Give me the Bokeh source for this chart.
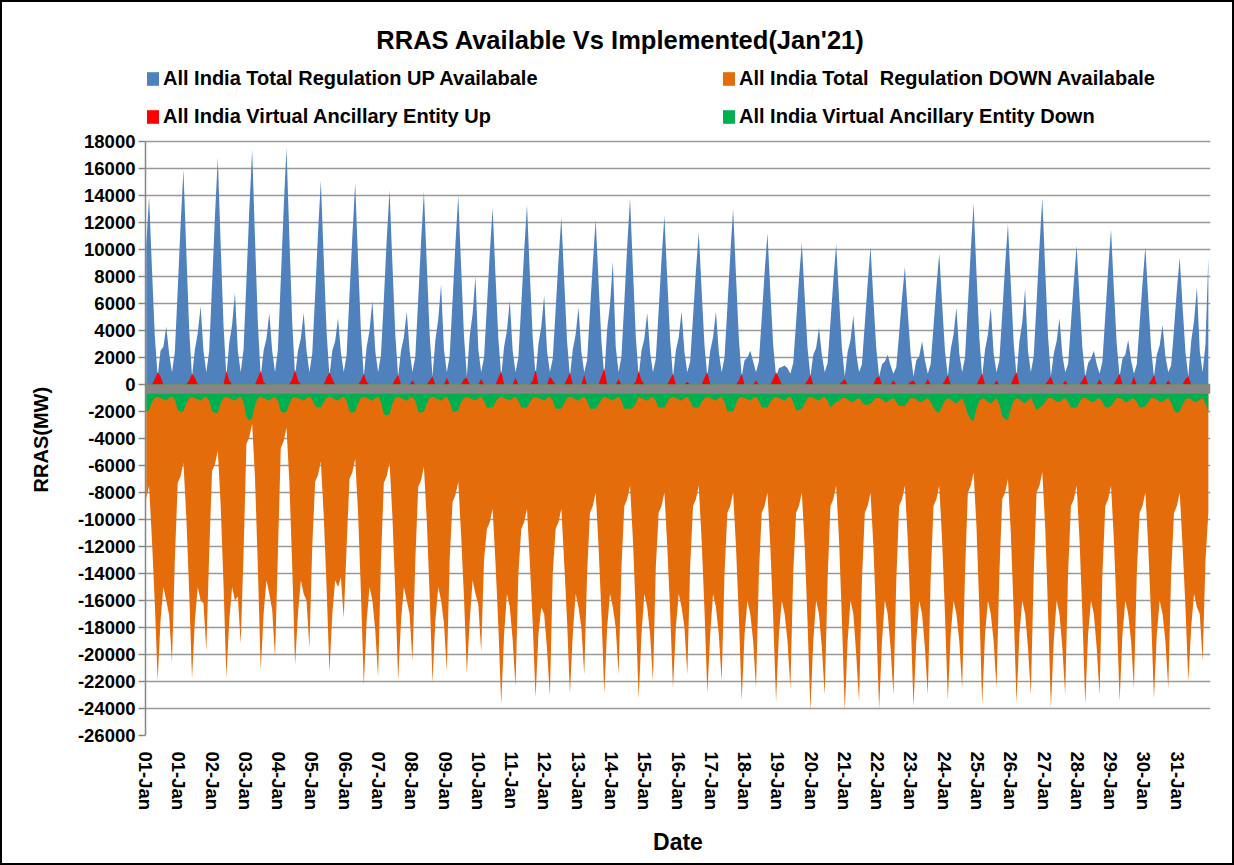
from bokeh.plotting import figure
from bokeh.models import Range1d, FixedTicker, Legend, LegendItem, Label, BoxAnnotation
from bokeh.embed import file_html
from bokeh.resources import INLINE

# ---------------- data (MW), one row per day, samples every 2 h at hh:30 ----------------
sample_hours = [0.5, 2.5, 4.5, 6.5, 8.5, 10.5, 12.5, 14.5, 16.5, 18.5, 20.5, 22.5]

date_labels = ["01-Jan", "01-Jan", "02-Jan", "03-Jan", "04-Jan", "05-Jan", "06-Jan", "07-Jan",
               "08-Jan", "09-Jan", "10-Jan", "11-Jan", "12-Jan", "13-Jan", "14-Jan", "15-Jan",
               "16-Jan", "17-Jan", "18-Jan", "19-Jan", "20-Jan", "21-Jan", "22-Jan", "23-Jan",
               "24-Jan", "25-Jan", "26-Jan", "27-Jan", "28-Jan", "29-Jan", "30-Jan", "31-Jan"]

y_ticks = [18000, 16000, 14000, 12000, 10000, 8000, 6000, 4000, 2000, 0, -2000, -4000, -6000,
           -8000, -10000, -12000, -14000, -16000, -18000, -20000, -22000, -24000, -26000]

series_names = ["All India Total Regulation UP Availabale",
                "All India Total  Regulation DOWN Availabale",
                "All India Virtual Ancillary Entity Up",
                "All India Virtual Ancillary Entity Down"]

up_avail = [
    10300, 13900, 8600, 3600, 600, 2500, 2800, 4300, 2300, 900, 2400, 7000,
    11800, 15900, 9900, 4100, 600, 2600, 3800, 5800, 2500, 900, 2500, 7400,
    12400, 16800, 10400, 4400, 600, 3100, 4400, 6800, 2500, 900, 2600, 7700,
    12900, 17400, 10800, 4500, 600, 2500, 3400, 5300, 2500, 900, 2600, 7700,
    13000, 17500, 10900, 4600, 600, 2500, 3400, 5300, 2500, 900, 2300, 6600,
    11200, 15100, 9400, 3900, 600, 2500, 3200, 4900, 2400, 900, 2200, 6600,
    11000, 14900, 9200, 3900, 600, 2800, 4000, 6200, 2500, 900, 2200, 6300,
    10700, 14400, 8900, 3700, 600, 2500, 3500, 5400, 2500, 900, 2100, 6300,
    10600, 14300, 8900, 3700, 600, 3300, 4800, 7400, 2600, 900, 2100, 6200,
    10400, 14000, 8700, 3600, 600, 3600, 5200, 8000, 2600, 900, 2000, 5800,
    9700, 13100, 8100, 3400, 600, 2800, 4000, 6200, 2500, 900, 2000, 5900,
    9800, 13300, 8200, 3500, 600, 3000, 4300, 6600, 2500, 900, 1900, 5500,
    9200, 12400, 7700, 3200, 600, 2600, 3700, 5700, 2400, 900, 1800, 5400,
    9000, 12200, 7600, 3200, 600, 4100, 5900, 9100, 2800, 900, 2100, 6100,
    10200, 13800, 8600, 3600, 600, 2500, 3400, 5300, 2400, 900, 1900, 5500,
    9300, 12500, 7800, 3300, 600, 2500, 3500, 5400, 2400, 900, 1700, 5000,
    8400, 11300, 7000, 2900, 600, 2500, 3500, 5400, 2400, 900, 2000, 5700,
    9600, 13000, 8100, 3400, 600, 1800, 2000, 2500, 1700, 900, 1700, 4900,
    8300, 11200, 6900, 2900, 600, 1200, 1300, 1400, 1200, 800, 1600, 4600,
    7800, 10500, 6500, 2700, 600, 2200, 2700, 4200, 2200, 900, 1600, 4600,
    7700, 10400, 6400, 2700, 600, 2400, 3300, 5100, 2300, 900, 1500, 4500,
    7500, 10200, 6300, 2700, 600, 1500, 1700, 2200, 1400, 800, 1300, 3800,
    6400, 8700, 5400, 2300, 600, 1800, 2100, 3200, 1800, 800, 1500, 4300,
    7200, 9700, 6000, 2500, 600, 2600, 3700, 5700, 2300, 900, 2000, 5900,
    9900, 13400, 8300, 3500, 600, 2600, 3700, 5700, 2300, 900, 1800, 5200,
    8800, 11900, 7400, 3100, 600, 3200, 4600, 7100, 2500, 900, 2100, 6100,
    10200, 13800, 8600, 3600, 600, 2300, 3200, 4900, 2200, 900, 1500, 4500,
    7600, 10300, 6400, 2700, 600, 1600, 1900, 2500, 1500, 800, 1700, 5100,
    8500, 11500, 7100, 3000, 600, 1900, 2200, 3300, 1800, 800, 1500, 4500,
    7500, 10200, 6300, 2700, 600, 2200, 2900, 4400, 2100, 900, 1400, 4100,
    7000, 9400, 5800, 2400, 600, 3200, 4700, 7200, 2500, 900, 3000, 9400,
]

down_avail = [
    -8500, -7500, -11500, -16200, -21900, -17500, -15000, -16000, -17100, -20600, -13000, -7300,
    -6800, -5800, -9800, -15300, -21800, -17500, -15000, -16000, -16200, -19700, -12500, -6400,
    -5900, -4900, -8900, -14800, -21700, -17500, -15000, -16000, -15700, -19200, -12500, -4400,
    -3900, -2900, -6900, -13600, -21200, -17000, -14500, -15500, -16700, -20200, -12500, -4700,
    -4200, -3200, -7200, -13500, -20800, -17000, -14500, -15500, -16000, -19500, -12000, -7200,
    -6700, -5700, -9700, -15000, -21300, -17000, -14500, -15000, -14300, -17300, -12000, -7000,
    -6500, -5500, -9500, -15400, -22300, -17500, -15000, -16000, -18200, -21700, -13000, -7300,
    -6800, -5800, -9800, -15400, -21900, -17500, -15000, -16000, -17000, -20500, -13000, -7600,
    -7100, -6100, -10100, -15600, -22100, -17500, -15000, -16000, -17700, -21200, -13000, -8700,
    -8200, -7200, -11200, -15800, -21400, -17500, -14500, -15500, -16300, -19800, -13000, -10700,
    -10200, -9200, -13200, -17900, -23700, -18500, -15500, -16500, -18900, -22400, -14000, -10700,
    -10200, -9200, -13200, -17700, -23200, -18500, -16500, -17000, -19600, -23100, -14000, -10700,
    -10200, -9200, -13200, -17500, -22900, -18500, -15500, -16500, -18000, -21500, -14000, -9500,
    -9000, -8000, -12000, -16900, -22900, -18000, -15500, -16500, -18000, -21500, -13500, -9000,
    -8500, -7500, -11500, -16900, -23300, -18500, -15500, -16500, -18500, -22000, -13500, -9500,
    -9000, -8000, -12000, -16800, -22500, -18000, -15500, -16500, -18000, -21500, -13500, -9000,
    -8500, -7500, -11500, -16700, -22900, -18500, -15500, -16500, -18500, -22000, -14000, -9500,
    -9000, -8000, -12000, -17200, -23400, -18500, -16000, -17000, -19000, -22500, -14000, -9500,
    -9000, -8000, -12000, -17300, -23500, -18500, -16000, -17000, -19000, -22500, -14000, -9500,
    -9000, -8000, -12000, -17600, -24200, -19000, -16000, -17000, -19500, -23000, -14500, -9000,
    -8500, -7500, -11500, -17400, -24200, -19000, -16000, -17000, -20000, -23500, -14500, -9500,
    -9000, -8000, -12000, -17600, -24100, -19000, -16000, -17000, -19500, -23000, -14500, -9000,
    -8500, -7500, -11500, -17200, -23900, -19000, -16000, -17000, -19500, -23000, -14500, -9000,
    -8500, -7500, -11500, -17000, -23400, -18500, -16000, -17000, -19000, -22500, -14000, -8000,
    -7500, -6500, -10500, -16600, -23700, -18500, -16000, -17000, -19000, -22500, -14000, -8500,
    -8000, -7000, -11000, -16800, -23600, -18500, -16000, -17000, -19500, -23000, -14000, -8000,
    -7500, -6500, -10500, -16800, -24000, -19000, -16000, -17000, -19500, -23000, -14000, -9000,
    -8500, -7500, -11500, -17100, -23700, -18500, -16000, -17000, -19500, -23000, -14000, -9000,
    -8500, -7500, -11500, -17000, -23500, -18500, -16000, -17000, -19000, -22500, -14000, -9500,
    -9000, -8000, -12000, -17200, -23300, -18500, -16000, -17000, -19000, -22500, -14000, -9500,
    -9000, -8000, -12000, -16500, -22000, -18000, -15500, -16500, -17000, -20500, -13000, -9500,
]

vae_up = [
    0, 0, 0, 400, 900, 600, 0, 0, 0, 0, 0, 0,
    0, 0, 0, 300, 800, 500, 0, 0, 0, 0, 0, 0,
    0, 0, 0, 0, 1000, 300, 0, 0, 0, 0, 0, 0,
    0, 0, 0, 500, 1000, 200, 0, 0, 0, 0, 0, 0,
    0, 0, 0, 400, 1100, 300, 0, 0, 0, 0, 0, 0,
    0, 0, 0, 500, 900, 400, 0, 0, 0, 0, 0, 0,
    0, 0, 0, 300, 800, 200, 0, 0, 0, 0, 0, 0,
    0, 0, 0, 400, 700, 0, 0, 0, 0, 300, 0, 0,
    0, 0, 0, 300, 600, 0, 0, 0, 0, 500, 0, 0,
    0, 0, 0, 400, 500, 0, 0, 0, 0, 400, 0, 0,
    0, 0, 0, 500, 1000, 0, 0, 0, 0, 500, 0, 0,
    0, 0, 0, 300, 1100, 0, 0, 0, 0, 600, 300, 0,
    0, 0, 0, 400, 900, 0, 0, 0, 0, 700, 0, 0,
    0, 0, 0, 600, 1200, 0, 0, 0, 0, 400, 0, 0,
    0, 0, 0, 200, 1000, 300, 0, 0, 0, 0, 0, 0,
    0, 0, 0, 400, 800, 0, 0, 0, 0, 200, 0, 0,
    0, 0, 0, 500, 900, 0, 0, 0, 0, 0, 0, 0,
    0, 0, 0, 300, 800, 0, 0, 0, 0, 300, 0, 0,
    0, 0, 0, 400, 900, 500, 0, 0, 0, 0, 0, 0,
    0, 0, 0, 300, 700, 0, 0, 0, 0, 0, 0, 0,
    0, 0, 0, 200, 400, 0, 0, 0, 0, 0, 0, 0,
    0, 0, 0, 500, 600, 0, 0, 0, 0, 300, 0, 0,
    0, 0, 0, 200, 300, 0, 0, 0, 0, 400, 0, 0,
    0, 0, 0, 300, 700, 0, 0, 0, 0, 0, 0, 0,
    0, 0, 0, 400, 800, 0, 0, 0, 0, 300, 0, 0,
    0, 0, 0, 500, 900, 0, 0, 0, 0, 0, 0, 0,
    0, 0, 0, 300, 600, 0, 0, 0, 0, 300, 0, 0,
    0, 0, 0, 300, 700, 0, 0, 0, 0, 400, 0, 0,
    0, 0, 0, 400, 800, 0, 0, 0, 0, 600, 0, 0,
    0, 0, 0, 300, 700, 0, 0, 0, 0, 300, 0, 0,
    0, 0, 0, 400, 600, 0, 0, 0, 0, 0, 0, 0,
]

vae_down = [
    -2000, -1900, -1300, -1000, -900, -1000, -1100, -1200, -1000, -900, -1100, -1900,
    -2000, -2000, -1400, -1000, -900, -1000, -1100, -1200, -1000, -900, -1200, -2000,
    -2100, -2100, -1400, -1000, -900, -1000, -1100, -1200, -1000, -900, -1300, -2400,
    -2650, -2500, -1500, -1000, -900, -1000, -1100, -1200, -1000, -900, -1200, -2000,
    -2100, -2000, -1400, -1000, -900, -1000, -1100, -1200, -1000, -900, -1100, -1600,
    -1700, -1700, -1300, -1000, -900, -1000, -1100, -1200, -1000, -900, -1200, -2000,
    -2100, -2000, -1400, -1000, -900, -1000, -1100, -1200, -1000, -900, -1300, -2200,
    -2300, -2200, -1400, -1000, -900, -1000, -1100, -1200, -1000, -900, -1200, -2000,
    -2100, -2000, -1400, -1000, -900, -1000, -1100, -1200, -1000, -900, -1300, -2000,
    -2000, -1900, -1300, -1000, -900, -1000, -1100, -1200, -1000, -900, -1200, -1700,
    -1700, -1700, -1300, -1000, -900, -1000, -1100, -1200, -1000, -900, -1200, -1700,
    -1700, -1700, -1300, -1000, -900, -1000, -1100, -1200, -1000, -900, -1200, -1800,
    -1800, -1800, -1400, -1000, -900, -1000, -1100, -1200, -1000, -900, -1200, -1800,
    -1800, -1800, -1500, -1100, -900, -1000, -1100, -1200, -1000, -900, -1200, -1800,
    -1800, -1800, -1700, -1400, -900, -1000, -1100, -1200, -1000, -900, -1200, -1700,
    -1700, -1700, -1300, -1000, -900, -1000, -1100, -1200, -1000, -900, -1200, -1700,
    -1700, -1700, -1300, -1000, -900, -1000, -1100, -1200, -1000, -900, -1300, -2000,
    -2000, -2000, -1400, -1000, -900, -1000, -1100, -1200, -1000, -900, -1200, -1700,
    -1700, -1700, -1300, -1000, -900, -1000, -1100, -1200, -1000, -900, -1300, -1900,
    -1900, -1800, -1400, -1000, -900, -1000, -1100, -1200, -1000, -900, -1200, -1700,
    -1500, -1300, -1200, -1000, -1000, -1100, -1300, -1300, -1100, -1000, -1300, -1500,
    -1500, -1400, -1200, -1000, -1000, -1100, -1300, -1300, -1100, -1000, -1300, -1600,
    -1600, -1600, -1300, -1000, -1000, -1100, -1300, -1300, -1100, -1000, -1300, -1700,
    -2000, -2100, -1600, -1200, -1000, -1100, -1300, -1400, -1200, -1000, -1500, -2200,
    -2600, -2700, -1800, -1200, -1000, -1100, -1300, -1400, -1200, -1000, -1500, -2300,
    -2600, -2600, -1800, -1200, -1000, -1100, -1300, -1400, -1200, -1000, -1400, -1900,
    -1700, -1600, -1300, -1000, -1000, -1100, -1300, -1300, -1100, -1000, -1300, -1700,
    -1700, -1700, -1300, -1000, -1000, -1100, -1300, -1300, -1100, -1000, -1300, -1700,
    -1700, -1600, -1300, -1000, -1000, -1100, -1300, -1300, -1100, -1000, -1300, -1700,
    -1700, -1600, -1300, -1000, -1000, -1100, -1300, -1300, -1100, -1000, -1300, -1900,
    -2100, -2000, -1500, -1100, -1000, -1100, -1300, -1300, -1100, -1000, -1400, -2100,
]

series_colors = ["#4F81BD", "#E46C0A", "#FF0000", "#00B050"]

# ---------------- positions (15-minute block index) ----------------
blocks_per_day = 96
n_days = len(up_avail) // len(sample_hours)
xs = [d * blocks_per_day + h * 4 for d in range(n_days) for h in sample_hours]
label_blocks = [93 * k for k in range(len(date_labels))]

BOLD_FONT = "Liberation Sans"

# layout geometry (px): frame spans from just under the top border to the -26000 line;
# the y range is extended above 18000 so title and legend sit inside the frame
FRAME_TOP_PAD = 8
PLOT_TOP_PX = 141 - 2 - FRAME_TOP_PAD      # px between frame top and the 18000 line
PLOT_H_PX = 735 - 141                        # px between 18000 and -26000
y_lo, y_hi = -26000, 18000
y_top = y_hi + PLOT_TOP_PX * (y_hi - y_lo) / PLOT_H_PX

p = figure(width=1234, height=865, x_range=Range1d(0, 2976), y_range=Range1d(y_lo, y_top),
           output_backend="svg", toolbar_location=None, title=None,
           min_border_left=143, min_border_right=26, min_border_top=FRAME_TOP_PAD,
           min_border_bottom=132)
p.styles = {"border": "2px solid #000000"}
p.outline_line_color = None
p.background_fill_color = "white"
p.border_fill_color = "white"

for vals, col in zip([up_avail, down_avail, vae_up, vae_down], series_colors):
    p.varea(x=xs, y1=0, y2=vals, fill_color=col)

# square swatches for the legend: a single NaN box each, so nothing is drawn in the plot
nan = float("nan")
swatches = [p.quad(left=[nan], right=[nan], top=[nan], bottom=[nan],
                   fill_color=c, line_color=None) for c in series_colors]

# thick horizontal category axis line at zero
p.add_layout(BoxAnnotation(top=0, bottom=-680, fill_color="#868686", fill_alpha=1.0,
                           line_color=None))

# axes
yax = p.yaxis[0]
yax.ticker = FixedTicker(ticks=y_ticks)
yax.bounds = (y_lo, y_hi)
yax.major_label_overrides = {t: str(t) for t in y_ticks}
yax.minor_tick_line_color = None
yax.axis_line_color = "#868686"
yax.axis_line_width = 1.5
yax.major_tick_line_color = "#868686"
yax.major_tick_line_width = 1.5
yax.major_tick_out = 7
yax.major_tick_in = 0
yax.major_label_standoff = 3
yax.major_label_text_font = BOLD_FONT
yax.major_label_text_font_style = "bold"
yax.major_label_text_font_size = "18.5px"
yax.major_label_text_color = "black"
# the axis label is centred on the (extended) frame; trailing no-break spaces move the
# visible text down to the centre of the -26000..18000 span
yax.axis_label = "RRAS(MW)" + "\u00a0" * 24
yax.axis_label_text_font = BOLD_FONT
yax.axis_label_text_font_style = "bold"
yax.axis_label_text_font_size = "20px"
yax.axis_label_text_color = "black"
yax.axis_label_standoff = 23

xax = p.xaxis[0]
xax.ticker = FixedTicker(ticks=label_blocks)
xax.major_label_overrides = {b: lab for b, lab in zip(label_blocks, date_labels)}
xax.major_label_orientation = "vertical"
xax.minor_tick_line_color = None
xax.major_tick_line_color = None
xax.axis_line_color = None
xax.major_label_standoff = 10
xax.major_label_text_font = BOLD_FONT
xax.major_label_text_font_style = "bold"
xax.major_label_text_font_size = "18.5px"
xax.major_label_text_color = "black"
xax.axis_label = "Date"
xax.axis_label_text_font = BOLD_FONT
xax.axis_label_text_font_style = "bold"
xax.axis_label_text_font_size = "23px"
xax.axis_label_text_color = "black"
xax.axis_label_standoff = 16

p.xgrid.visible = False
p.ygrid.ticker = FixedTicker(ticks=y_ticks)
p.ygrid.grid_line_color = "#999999"
p.ygrid.grid_line_width = 1.5

# title and legend: screen offsets measured from the frame's bottom-left corner
frame_bottom_abs = 735
p.add_layout(Label(x=620 - 145, y=frame_bottom_abs - 39, x_units="screen", y_units="screen",
                   text="RRAS Available Vs Implemented(Jan'21)", text_align="center",
                   text_baseline="middle", text_font=BOLD_FONT, text_font_style="bold",
                   text_font_size="25.5px", text_color="black"))

# column-major order -> row 1: UP / DOWN, row 2: VAE Up / VAE Down
order = [0, 2, 1, 3]
legend = Legend(items=[LegendItem(label=series_names[i], renderers=[swatches[i]]) for i in order],
                ncols=2, location=(0, frame_bottom_abs - 128))
legend.glyph_width = 15
legend.glyph_height = 17
legend.label_standoff = 3
legend.spacing = 15
legend.label_width = 543
legend.label_height = 23
legend.padding = 0
legend.margin = 0
legend.border_line_color = None
legend.background_fill_alpha = 0
legend.label_text_font = BOLD_FONT
legend.label_text_font_style = "bold"
legend.label_text_font_size = "20px"
legend.label_text_color = "black"
p.add_layout(legend, "center")

open("out.html", "w").write(file_html(p, INLINE))
